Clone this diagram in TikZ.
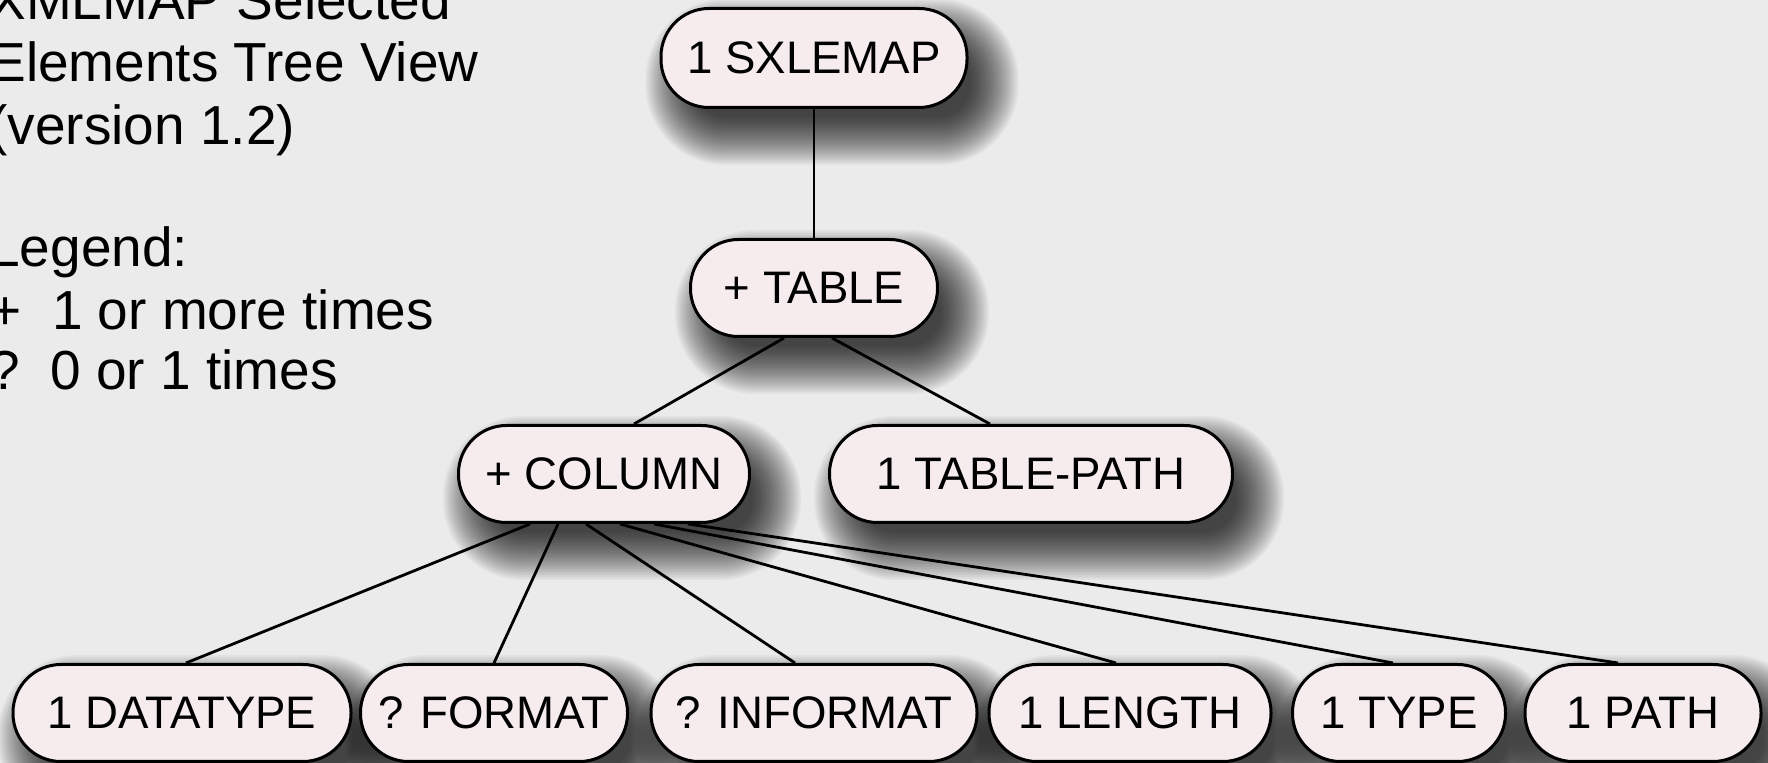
\documentclass[tikz,border=0pt]{standalone}
\usepackage{fontspec}
\setmainfont{Liberation Sans}
\pgfdeclarelayer{bgl}
\pgfdeclarelayer{shadowl}
\pgfsetlayers{bgl,shadowl,main}
\definecolor{bg}{RGB}{235,235,235}
\definecolor{nodefill}{RGB}{246,236,238}
\newcommand\nodeshadow[1]{%
  \foreach \k in {0,...,30}{%
    \pgfmathsetmacro\shE{-8+0.8*\k}%
    \pgfmathsetmacro\shR{max(24+\shE,1)}%
    \pgfmathsetmacro\shXa{9-\shE}%
    \pgfmathsetmacro\shYa{-12-\shE}%
    \pgfmathsetmacro\shXb{9+\shE}%
    \pgfmathsetmacro\shYb{-12+\shE}%
    \fill[black, opacity=0.035, rounded corners=\shR pt]
      ([shift={(\shXa pt,\shYa pt)}]#1.south west) rectangle
      ([shift={(\shXb pt,\shYb pt)}]#1.north east);
  }}
\begin{document}
\begin{tikzpicture}[x=0.5pt,y=-0.5pt,
  elem/.style={draw=black, line width=1.5pt, fill=nodefill, rounded corners=24pt,
    minimum height=48.5pt, inner sep=0pt, font=\fontsize{22.8}{27}\selectfont},
  edge/.style={line width=1.4pt, draw=black},
  legend/.style={anchor=base west, inner sep=0pt, font=\fontsize{27.5}{31}\selectfont}]
\useasboundingbox (0,0) rectangle (1768,763);
\clip (0,0) rectangle (1768,763);
\begin{pgfonlayer}{bgl}
\fill[bg] (0,0) rectangle (1768,763);
\end{pgfonlayer}

% legend text
\node[legend] (t1) at (-11,20) {XMLMAP Selected};
\node[legend] (t2) at (-11,82) {Elements Tree View};
\node[legend] (t3) at (-11,145) {(version 1.2)};
\node[legend] (lg) at (-11,267) {Legend:};
\node[legend] (l1) at (-11,330) {+~~1 or more times};
\node[legend] (l2) at (-11,390) {?~~0 or 1 times};

% nodes
\node[elem, minimum width=153pt, minimum height=49.5pt] (root) at (814,58) {1 SXLEMAP};
\node[elem, minimum width=123.5pt] (table) at (814,288) {+ TABLE};
\node[elem, minimum width=145.5pt] (col) at (604,474) {+ COLUMN};
\node[elem, minimum width=201.5pt] (tpath) at (1031,474) {1 TABLE-PATH};
\node[elem, minimum width=169pt] (dt) at (182,713) {1 DATATYPE};
\node[elem, minimum width=133.5pt] (fmt) at (494,713) {? FORMAT};
\node[elem, minimum width=163pt] (infmt) at (814,713) {? INFORMAT};
\node[elem, minimum width=141pt] (len) at (1130,713) {1 LENGTH};
\node[elem, minimum width=106.5pt] (typ) at (1399,713) {1 TYPE};
\node[elem, minimum width=118pt] (path) at (1643,713) {1 PATH};

% soft shadows
\begin{pgfonlayer}{shadowl}
\foreach \n in {root,table,col,tpath,dt,fmt,infmt,len,typ,path}{\nodeshadow{\n}}
\end{pgfonlayer}

% connectors
\draw[edge] (root.south) -- (table.north);
\draw[edge] ([xshift=-15pt]table.south) -- ([xshift=15pt]col.north);
\draw[edge] ([xshift=9pt]table.south) -- ([xshift=-20.5pt]tpath.north);
\draw[edge] ([xshift=-37pt]col.south) -- ([xshift=2pt]dt.north);
\draw[edge] ([xshift=-23pt]col.south) -- ([xshift=0pt]fmt.north);
\draw[edge] ([xshift=-9pt]col.south) -- ([xshift=-9.5pt]infmt.north);
\draw[edge] ([xshift=8pt]col.south) -- ([xshift=-7pt]len.north);
\draw[edge] ([xshift=25pt]col.south) -- ([xshift=-3pt]typ.north);
\draw[edge] ([xshift=42pt]col.south) -- ([xshift=-12.5pt]path.north);
\end{tikzpicture}
\end{document}
